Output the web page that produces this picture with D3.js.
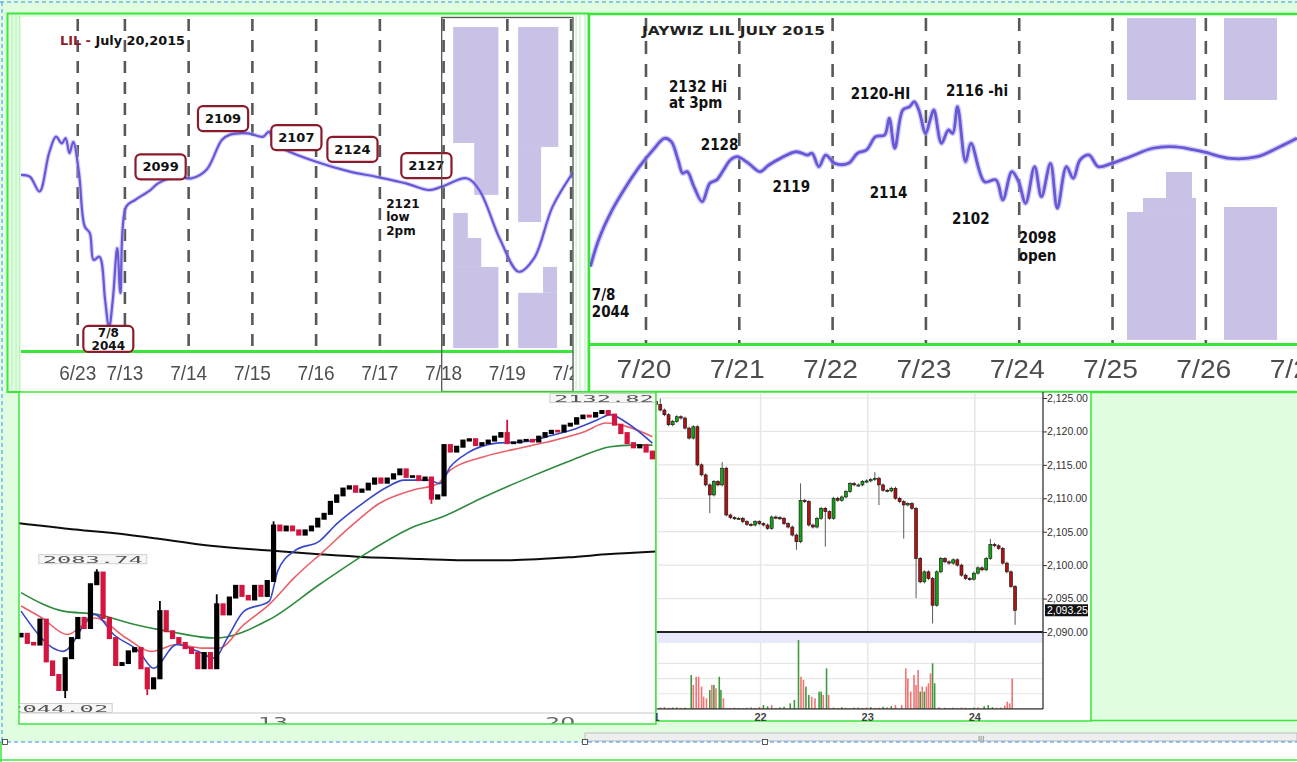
<!DOCTYPE html>
<html>
<head>
<meta charset="utf-8">
<script src="https://cdn.jsdelivr.net/npm/d3@7"></script>
<style>
body{margin:0;background:#fff;overflow:hidden}
svg{display:block}
text{font-family:"DejaVu Sans",sans-serif}
</style>
</head>
<body>
<div id="chart"></div>
<script>

// ---------- top left: "LIL - July 20,2015" ----------
var lilTickPos = [-0.74, 0, 1, 2, 3, 4, 5, 6, 7];
var lilTickLabels = ["6/23","7/13","7/14","7/15","7/16","7/17","7/18","7/19","7/20"];
var lilLineX = [-1.63,-1.49,-1.34,-1.19,-1.08,-0.99,-0.93,-0.87,-0.81,-0.72,-0.63,-0.55,-0.49,-0.40,-0.31,-0.25,-0.19,-0.12,-0.07,0.02,0.16,0.40,0.52,0.81,1.05,1.28,1.52,1.64,1.93,2.17,2.26,2.35,2.52,3.00,3.53,3.94,4.41,4.77,4.97,5.36,5.56,5.89,6.18,6.42,6.71,7.04];
var lilLineY = [2095.4,2094.8,2089.9,2102.6,2108.1,2105.9,2107.6,2102.6,2106.4,2096.0,2078.3,2076.1,2067.2,2068.3,2053.9,2044.6,2053.9,2071.1,2056.2,2084.9,2087.1,2090.4,2092.6,2094.8,2094.3,2097.1,2107.0,2108.7,2109.2,2108.1,2109.8,2105.9,2103.7,2099.8,2096.5,2094.8,2092.6,2090.4,2091.5,2094.3,2090.4,2073.8,2063.3,2067.8,2084.9,2096.5];
var lilBoxLines = [["2109"],["2099"],["2107"],["2124"],["2127"],["7/8","2044"]];
var lilBoxX = [1.54, 0.56, 2.69, 3.57, 4.73, -0.26];
var lilBoxY = [2114.1, 2098.1, 2107.8, 2103.9, 2098.5, 2041.0];
var lilPlainLines = ["2121","low","2pm"];
var lilPlainX = 4.10, lilPlainY = 2086.1;
var lilShadeX0 = [5.15, 5.48, 5.15, 5.15, 5.15, 6.17, 6.17, 6.56, 6.17];
var lilShadeX1 = [5.86, 5.86, 5.38, 5.59, 5.86, 6.80, 6.53, 6.78, 6.78];
var lilShadeTop = [2144.5, 2106.0, 2082.8, 2074.5, 2064.9, 2144.5, 2104.7, 2064.9, 2056.3];
var lilShadeBot = [2106.0, 2088.8, 2074.5, 2064.9, 2038.0, 2104.7, 2079.8, 2056.3, 2038.0];

// ---------- top right: "JAYWIZ LIL JULY 2015" ----------
var jwTickPos = [0, 1, 2, 3, 4, 5, 6, 7];
var jwTickLabels = ["7/20","7/21","7/22","7/23","7/24","7/25","7/26","7/27"];
var jwLineX = [-0.596,-0.508,-0.362,-0.215,-0.070,0.076,0.198,0.271,0.344,0.393,0.442,0.514,0.602,0.685,0.758,0.831,0.904,0.976,1.099,1.220,1.317,1.440,1.610,1.731,1.780,1.853,1.926,2.024,2.169,2.267,2.364,2.461,2.558,2.607,2.666,2.753,2.826,2.875,2.924,2.997,3.045,3.085,3.167,3.240,3.288,3.338,3.425,3.483,3.629,3.751,3.824,3.921,3.994,4.068,4.165,4.238,4.335,4.408,4.506,4.579,4.652,4.749,4.847,4.993,5.188,5.431,5.674,5.966,6.258,6.550,6.793,6.977];
var jwLineY = [2062.1,2076.6,2092.9,2105.5,2116.4,2125.5,2131.8,2130.0,2120.0,2112.8,2113.7,2105.5,2097.4,2107.4,2109.2,2114.6,2120.0,2121.8,2118.2,2113.7,2117.3,2120.9,2124.5,2122.7,2123.7,2116.4,2122.7,2118.2,2118.2,2123.7,2125.5,2132.7,2133.6,2142.7,2126.4,2147.2,2149.0,2151.7,2147.2,2134.5,2141.7,2147.2,2129.1,2136.3,2134.5,2149.0,2119.1,2129.1,2108.2,2109.2,2098.3,2113.7,2108.2,2096.5,2116.4,2100.1,2118.2,2093.8,2116.4,2110.1,2120.0,2122.7,2116.4,2118.2,2121.8,2126.4,2127.2,2124.5,2120.9,2121.8,2127.2,2131.8];
var jwNoteText = ["2132 Hi","at 3pm","2128","2119","2120-HI","2116 -hi","2114","2102","2098","open","7/8","2044"];
var jwNoteX = [0.246, 0.246, 0.587, 1.357, 2.194, 3.215, 2.398, 3.280, 3.995, 3.995, -0.581, -0.581];
var jwNoteY = [2159.7, 2151.0, 2128.2, 2105.4, 2155.9, 2157.5, 2102.6, 2088.0, 2077.7, 2067.9, 2046.7, 2037.5];
var jwShadeX0 = [5.155, 6.195, 5.155, 5.327, 5.573, 6.195];
var jwShadeX1 = [5.895, 6.763, 5.895, 5.895, 5.852, 6.763];
var jwShadeTop = [2197.1, 2197.1, 2091.8, 2099.4, 2113.5, 2094.5];
var jwShadeBot = [2152.6, 2152.6, 2022.3, 2091.8, 2099.4, 2022.3];

// ---------- bottom left: ES bars 7/6 - 7/21 ----------
var blFirstOpen = 2063.0;
var blClose = [2063.8,2061.0,2060.5,2068.2,2055.3,2051.1,2046.5,2056.3,2062.5,2068.7,
  2065.6,2079.1,2082.7,2068.7,2062.5,2054.2,2054.8,2058.4,2059.4,2053.2,
  2047.0,2050.1,2070.8,2064.6,2062.5,2061.0,2059.4,2057.9,2053.2,2057.9,
  2053.2,2072.9,2069.8,2075.0,2078.6,2075.5,2074.4,2078.6,2075.5,2080.1,
  2097.2,2095.7,2096.9,2095.7,2094.4,2095.7,2096.9,2099.3,2100.8,2104.5,
  2106.5,2108.6,2109.3,2107.6,2108.3,2110.1,2111.7,2110.4,2111.7,2113.0,
  2114.5,2112.2,2112.4,2111.2,2112.0,2105.5,2106.5,2122.0,2120.0,2121.5,
  2123.4,2123.8,2122.0,2122.6,2123.4,2124.6,2125.7,2122.6,2122.8,2123.4,
  2123.6,2123.1,2124.6,2125.7,2126.4,2126.2,2128.0,2128.6,2130.3,2131.1,
  2130.8,2131.9,2132.5,2131.4,2128.3,2125.7,2122.6,2121.3,2122.0,2120.0,
  2117.9];
var blWickIdx = [7, 12, 20, 22, 31, 40, 65, 77, 92];
var blWickLow = [2044.02, null, 2044.9, null, null, null, 2103.9, null, null];
var blWickHigh = [null, 2083.74, null, 2073.9, 2076.0, 2098.5, null, 2129.8, 2132.82];
var blBlueIdx = [0,6.67,11.67,14.67,18.67,21,24.67,28,30.67,32.67,35.33,39.33,40.67,43.33,47.33,50,54,58,60.67,64.67,66.33,68,70.67,75.33,80,83.33,87.33,91.33,93.33,96,100];
var blBlueVal = [2070.8,2058.4,2069.8,2063.6,2058.4,2053.2,2060.5,2058.4,2056.3,2062.5,2070.8,2073.9,2083.2,2089.4,2092.5,2097.7,2103.9,2109.1,2111.2,2111.2,2110.1,2115.3,2119.5,2122.6,2123.1,2124.6,2126.7,2129.8,2131.4,2128.8,2122.6];
var blRedIdx = [0,3.33,7.33,11.67,16.67,20.67,24.67,28.67,31.33,35.33,39.33,43.33,48,52.67,56.67,62,66,68,73.33,80,84.67,89.33,92.67,96,100];
var blRedVal = [2072.4,2068.7,2063.6,2068.7,2062.5,2058.4,2060.5,2059.4,2059.4,2066.7,2072.9,2081.2,2089.4,2097.7,2103.9,2108.1,2110.1,2114.3,2118.4,2121.5,2123.6,2126.2,2128.8,2127.7,2124.6];
var blGreenIdx = [0,6.67,12,18,23.33,30.67,39.33,47.33,55.33,62,66.67,73.33,80.67,87.33,93.33,96.67,100];
var blGreenVal = [2076.5,2070.8,2069.8,2066.7,2064.6,2062.5,2068.2,2079.1,2089.4,2096.7,2099.8,2106.0,2112.2,2117.4,2121.5,2122.0,2122.0];
var blBlackIdx = [-0.33,10,13.33,20,30,40,46.67,53.33,63.33,70,76.67,86.67,93.33,100.67];
var blBlackVal = [2097.9,2095.7,2095.1,2093.6,2091.0,2089.4,2088.4,2087.6,2086.9,2086.5,2086.5,2087.4,2088.4,2089.2];
var blTickIdx = [39.9, 85.4];
var blTickLabels = ["13","20"];
var blMarkIdx = [12, 92, 7];
var blMarkVal = [2083.74, 2132.82, 2044.02];
var blMarkText = ["2083.74","2132.82","2044.02"];

// ---------- bottom right: ES candles 7/21 - 7/24 ----------
var brFirstOpen = 2124.5;
var brClose = [2124.0,2123.2,2122.5,2121.0,2121.5,2122.2,2122.0,2120.5,2119.0,2120.7,
  2115.0,2113.5,2112.0,2110.5,2112.5,2112.0,2114.5,2107.5,2107.1,2107.0,
  2107.0,2106.5,2106.1,2106.0,2106.5,2106.2,2106.0,2105.5,2107.2,2107.1,
  2107.0,2106.2,2105.7,2104.5,2103.5,2109.7,2109.5,2106.0,2105.7,2107.0,
  2108.5,2108.0,2107.0,2110.0,2109.7,2110.2,2111.0,2112.2,2112.0,2112.0,
  2112.5,2112.6,2112.8,2113.0,2112.0,2111.2,2111.1,2111.5,2110.0,2109.5,
  2109.0,2109.2,2108.5,2101.0,2097.5,2099.0,2098.0,2094.0,2099.0,2101.0,
  2100.5,2100.3,2100.8,2100.0,2098.5,2098.0,2097.9,2098.8,2099.6,2099.3,
  2101.0,2103.1,2102.9,2102.5,2100.3,2099.0,2096.8,2093.25];
var brWickIdx = [1, 13, 16, 34, 35, 41, 53, 54, 60, 63, 67, 81, 87];
var brWickLow = [null, 2108.0, null, 2102.5, null, 2103.0, null, 2109.2, 2104.2, 2095.3, 2091.5, null, 2091.3];
var brWickHigh = [2124.7, null, 2115.2, null, 2112.0, null, 2113.7, null, null, null, null, 2103.7, null];
var brPriceTicks = [2090, 2095, 2100, 2105, 2110, 2115, 2120, 2125];
var brDayTickK = [-0.64, 25.32, 51.28, 77.24];
var brDayLabels = ["21","22","23","24"];
var volK = [0,1,2,3,4,5,6,7,
  8.5,9,9.7,10.3,11,11.5,12.2,13,13.5,14,14.5,15.3,15.7,16.3,
  17,18,19,20,21,22,23,24,25,26,27,28,29,30,31,
  32.5,33.5,34.5,35.1,35.7,36.3,37,37.7,38.5,39.5,40,40.5,41.3,41.8,
  43,44,45,46,47,48,49,50,51,52,53,54,55,56,57,
  58,59.5,60.5,61,61.7,62.5,63,63.5,64,64.5,65,65.5,66,66.5,67,67.5,
  68.5,70,71,72,73,74,75,76,77,78,
  79.5,80.5,81.5,82.5,83.5,84.5,85.1,85.7,86.3];
var volV = [1100,900,1300,800,1000,1200,700,900,
  22300,15800,21200,21200,14700,8100,7000,12500,15800,15800,13600,21200,12500,7000,
  800,600,900,700,500,800,1000,600,1400,2600,1800,2600,700,1100,1500,
  3700,5900,45300,21200,19100,14700,9200,8100,7000,11400,11400,9200,26700,9200,
  900,700,1200,800,600,900,1100,700,1000,1300,800,900,1500,1200,2000,
  2600,2600,26700,20100,11400,22300,15800,25600,11400,14700,11400,14700,16900,23400,30000,16900,
  1200,800,600,900,700,1000,800,600,900,1100,
  1800,2600,1200,900,1000,2200,4800,3700,20100];
var volUp = [0,1,0,0,1,0,0,1,
  1,0,0,0,0,0,0,1,0,1,0,1,1,0,
  0,1,0,0,1,0,1,1,0,1,1,0,0,1,1,
  1,1,1,0,0,1,1,0,0,1,1,0,1,0,
  1,0,1,0,0,1,0,1,0,1,0,0,1,0,1,
  0,0,0,0,0,0,0,0,1,0,1,0,0,0,1,1,
  0,1,0,1,0,0,1,0,1,0,
  1,1,1,0,0,0,0,0,0];
var volTicks = [10000, 20000, 30000];

/////////////////////////

var W = 1297, H = 762;
var paleGreen = "#e0fde0", brightGreen = "#3be63b";
var purple = "#6658d6", shade = "#c9c1e6";

var svg = d3.select("#chart").append("svg").attr("width", W).attr("height", H);
var defs = svg.append("defs");
defs.append("filter").attr("id", "soft")
  .append("feGaussianBlur").attr("stdDeviation", 0.55);

function clip(id, x, y, w, h){
  defs.append("clipPath").attr("id", id).append("rect")
    .attr("x", x).attr("y", y).attr("width", w).attr("height", h);
  return "url(#" + id + ")";
}

// page background
svg.append("rect").attr("width", W).attr("height", H).attr("fill", "#fff");
svg.append("rect").attr("width", W).attr("height", 742).attr("fill", paleGreen);

// shared: shaded blocks + dashed day lines
function drawShades(g, x, y, x0, x1, top, bot){
  g.append("g").selectAll("rect").data(d3.range(x0.length)).join("rect")
    .attr("x", function(i){ return x(x0[i]); })
    .attr("width", function(i){ return x(x1[i]) - x(x0[i]); })
    .attr("y", function(i){ return y(top[i]); })
    .attr("height", function(i){ return y(bot[i]) - y(top[i]); })
    .attr("fill", shade);
}
function drawDashes(g, x, ticks, y0, y1, dash){
  g.append("g").selectAll("line").data(ticks).join("line")
    .attr("x1", function(d){ return x(d); }).attr("x2", function(d){ return x(d); })
    .attr("y1", y0).attr("y2", y1)
    .attr("stroke", "#3c3c3c").attr("stroke-width", 2.6)
    .attr("stroke-dasharray", dash).attr("opacity", 0.85);
}

// ================= TOP LEFT =================
var tlX = d3.scaleLinear().domain([-1.63, 7.03]).range([21, 573]);
var tlY = d3.scaleLinear().domain([2037.0, 2147.8]).range([351, 17]);

svg.append("rect").attr("x", 7.5).attr("y", 13.5).attr("width", 581).attr("height", 378.5)
  .attr("fill", paleGreen).attr("stroke", brightGreen).attr("stroke-width", 2);
svg.append("rect").attr("x", 573).attr("y", 15).attr("width", 14.5).attr("height", 376).attr("fill", "#fff");
[12, 16, 19.5, 576, 580, 585].forEach(function(xx){
  svg.append("line").attr("x1", xx).attr("x2", xx).attr("y1", 15).attr("y2", 391)
    .attr("stroke", "#b6f3b6").attr("stroke-width", 1);
});

var tl = svg.append("g").attr("clip-path", clip("tlClip", 21, 17, 552, 375));
tl.append("rect").attr("x", 21).attr("y", 17).attr("width", 552).attr("height", 375).attr("fill", "#fff");
drawShades(tl, tlX, tlY, lilShadeX0, lilShadeX1, lilShadeTop, lilShadeBot);
drawDashes(tl, tlX, lilTickPos, 19, 351, "12,9");

var tlLine = d3.line()
  .x(function(i){ return tlX(lilLineX[i]); })
  .y(function(i){ return tlY(lilLineY[i]); })
  .curve(d3.curveCatmullRom);
tl.append("path").attr("d", tlLine(d3.range(lilLineX.length)))
  .attr("fill", "none").attr("stroke", "#b4adf0").attr("stroke-width", 4.5).attr("opacity", 0.55);
tl.append("path").attr("d", tlLine(d3.range(lilLineX.length)))
  .attr("fill", "none").attr("stroke", purple).attr("stroke-width", 2.2).attr("filter", "url(#soft)");

// green base line and axis labels
tl.append("line").attr("x1", 21).attr("x2", 573).attr("y1", 351.5).attr("y2", 351.5)
  .attr("stroke", brightGreen).attr("stroke-width", 3);
tl.append("g").selectAll("text").data(d3.range(lilTickPos.length)).join("text")
  .attr("x", function(i){ return tlX(lilTickPos[i]); })
  .attr("y", 380)
  .attr("text-anchor", "middle")
  .attr("textLength", 37).attr("lengthAdjust", "spacingAndGlyphs")
  .style("font-family", "'Liberation Sans', Arial, sans-serif")
  .style("font-size", "21px").attr("fill", "#4e4e4e").attr("filter", "url(#soft)")
  .text(function(i){ return lilTickLabels[i]; });

// boxed notes
var tlNotes = tl.append("g").selectAll("g").data(d3.range(lilBoxX.length)).join("g")
  .attr("transform", function(i){ return "translate(" + tlX(lilBoxX[i]) + "," + tlY(lilBoxY[i]) + ")"; });
tlNotes.each(function(i){
  var g = d3.select(this);
  var lines = lilBoxLines[i];
  var multi = lines.length > 1;
  var t = g.append("text").attr("text-anchor", "middle")
    .style("font-size", multi ? "12px" : "13px").style("font-weight", "bold").attr("fill", "#111");
  lines.forEach(function(s, k){
    t.append("tspan").attr("x", 0)
      .attr("y", multi ? (k ? 11 : -1.5) : 4.5).text(s);
  });
  var w = multi ? 50 : t.node().getBBox().width + 14;
  var h = multi ? 26 : 25;
  g.insert("rect", "text").attr("x", -w / 2).attr("y", -h / 2)
    .attr("width", w).attr("height", h).attr("rx", 5)
    .attr("fill", "#fff").attr("stroke", "#8b1a2b").attr("stroke-width", 2.2);
});
tl.append("text").attr("x", tlX(lilPlainX)).attr("y", tlY(lilPlainY) + 5)
  .style("font-size", "12px").style("font-weight", "bold").attr("fill", "#111")
  .selectAll("tspan").data(lilPlainLines).join("tspan")
  .attr("x", tlX(lilPlainX)).attr("dy", function(d, k){ return k ? 13.5 : 0; })
  .text(function(d){ return d; });

// title
var tlTitle = tl.append("text").attr("x", 60).attr("y", 45)
  .attr("textLength", 125).attr("lengthAdjust", "spacingAndGlyphs")
  .style("font-size", "12px").style("font-weight", "bold");
tlTitle.append("tspan").attr("fill", "#8b1a2b").text("LIL - ");
tlTitle.append("tspan").attr("fill", "#111").text("July 20,2015");

// dark frame round the 7/18 - 7/20 block
svg.append("rect").attr("x", tlX(4.97)).attr("y", 17.5)
  .attr("width", 573 - tlX(4.97)).attr("height", 374)
  .attr("fill", "none").attr("stroke", "#555").attr("stroke-width", 1.3);

// ================= TOP RIGHT =================
var trX = d3.scaleLinear().domain([-0.600, 6.977]).range([590, 1297]);
var trY = d3.scaleLinear().domain([2020.6, 2197.7]).range([343, 17]);

svg.append("rect").attr("x", 589).attr("y", 14).attr("width", 710).attr("height", 378)
  .attr("fill", "#fff").attr("stroke", brightGreen).attr("stroke-width", 2.5);

var tr = svg.append("g").attr("clip-path", clip("trClip", 590, 16, 707, 376));
drawShades(tr, trX, trY, jwShadeX0, jwShadeX1, jwShadeTop, jwShadeBot);
drawDashes(tr, trX, jwTickPos, 18, 343, "13,10");

var trLine = d3.line()
  .x(function(i){ return trX(jwLineX[i]); })
  .y(function(i){ return trY(jwLineY[i]); })
  .curve(d3.curveCatmullRom);
tr.append("path").attr("d", trLine(d3.range(jwLineX.length)))
  .attr("fill", "none").attr("stroke", "#b4adf0").attr("stroke-width", 5.5).attr("opacity", 0.6);
tr.append("path").attr("d", trLine(d3.range(jwLineX.length)))
  .attr("fill", "none").attr("stroke", purple).attr("stroke-width", 2.8).attr("filter", "url(#soft)");

tr.append("line").attr("x1", 590).attr("x2", 1297).attr("y1", 344.5).attr("y2", 344.5)
  .attr("stroke", brightGreen).attr("stroke-width", 3);
tr.append("line").attr("x1", 590).attr("x2", 1297).attr("y1", 348).attr("y2", 348)
  .attr("stroke", "#d8f5d8").attr("stroke-width", 1);
tr.append("g").selectAll("text").data(d3.range(jwTickPos.length)).join("text")
  .attr("x", function(i){ return trX(jwTickPos[i]) - 2; })
  .attr("y", 378)
  .attr("text-anchor", "middle")
  .attr("textLength", 55).attr("lengthAdjust", "spacingAndGlyphs")
  .style("font-family", "'Liberation Sans', Arial, sans-serif")
  .style("font-size", "25px").attr("fill", "#4e4e4e").attr("filter", "url(#soft)")
  .text(function(i){ return jwTickLabels[i]; });

tr.append("g").selectAll("text").data(d3.range(jwNoteText.length)).join("text")
  .attr("x", function(i){ return trX(jwNoteX[i]); })
  .attr("y", function(i){ return trY(jwNoteY[i]) + 5.5; })
  .style("font-family", "'DejaVu Sans Condensed','DejaVu Sans',sans-serif")
  .style("font-stretch", "condensed")
  .style("font-size", "15px").style("font-weight", "bold").attr("fill", "#111")
  .text(function(i){ return jwNoteText[i]; });

tr.append("text").attr("x", 642).attr("y", 35)
  .attr("textLength", 183).attr("lengthAdjust", "spacingAndGlyphs")
  .style("font-size", "11.5px").style("font-weight", "bold").attr("fill", "#222")
  .text("JAYWIZ LIL JULY 2015");

// ================= BOTTOM LEFT =================
var blX = d3.scaleLinear().domain([0, 100]).range([21, 652.4]);
var blY = d3.scaleLinear().domain([2044.02, 2132.82]).range([698, 410]);

svg.append("rect").attr("x", 19).attr("y", 392).attr("width", 637).attr("height", 332)
  .attr("fill", "#fff").attr("stroke", brightGreen).attr("stroke-width", 1.5);
var bl = svg.append("g").attr("clip-path", clip("blClip", 19.5, 392.5, 636, 331))
  .attr("filter", "url(#soft)");

// axis
bl.append("line").attr("x1", 19).attr("x2", 656).attr("y1", 713).attr("y2", 713)
  .attr("stroke", "#c8c8c8").attr("stroke-width", 1);
bl.append("g").selectAll("text").data(d3.range(blTickIdx.length)).join("text")
  .attr("x", function(i){ return blX(blTickIdx[i]); }).attr("y", 727)
  .attr("text-anchor", "middle").attr("textLength", 30).attr("lengthAdjust", "spacingAndGlyphs")
  .style("font-size", "14px").attr("fill", "#666")
  .text(function(i){ return blTickLabels[i]; });

// moving averages
function maLine(idx, val){
  return d3.line().x(function(i){ return blX(idx[i]); }).y(function(i){ return blY(val[i]); })
    .curve(d3.curveMonotoneX)(d3.range(idx.length));
}
bl.append("path").attr("d", maLine(blBlackIdx, blBlackVal)).attr("fill", "none")
  .attr("stroke", "#111").attr("stroke-width", 2);
bl.append("path").attr("d", maLine(blGreenIdx, blGreenVal)).attr("fill", "none")
  .attr("stroke", "#2f8a3c").attr("stroke-width", 1.6);
bl.append("path").attr("d", maLine(blRedIdx, blRedVal)).attr("fill", "none")
  .attr("stroke", "#e8606a").attr("stroke-width", 1.6);
bl.append("path").attr("d", maLine(blBlueIdx, blBlueVal)).attr("fill", "none")
  .attr("stroke", "#3848c8").attr("stroke-width", 1.6);

// bars
var blBars = blClose.map(function(c, i){
  var o = i ? blClose[i - 1] : blFirstOpen;
  var k = blWickIdx.indexOf(i);
  var hi = Math.max(o, c), lo = Math.min(o, c);
  if(k >= 0){
    if(blWickHigh[k] != null) hi = blWickHigh[k];
    if(blWickLow[k] != null) lo = blWickLow[k];
  }
  return {i: i, o: o, c: c, hi: hi, lo: lo};
});
var blG = bl.append("g").selectAll("g").data(blBars).join("g");
blG.append("line")
  .attr("x1", function(d){ return blX(d.i); }).attr("x2", function(d){ return blX(d.i); })
  .attr("y1", function(d){ return blY(d.hi); }).attr("y2", function(d){ return blY(d.lo); })
  .attr("stroke", function(d){ return d.c >= d.o ? "#000" : "#d2153f"; }).attr("stroke-width", 1.8);
blG.append("rect")
  .attr("x", function(d){ return blX(d.i) - 2.6; }).attr("width", 5.2)
  .attr("y", function(d){ return blY(Math.max(d.o, d.c)) - 1; })
  .attr("height", function(d){ return Math.abs(blY(d.o) - blY(d.c)) + 2; })
  .attr("fill", function(d){ return d.c >= d.o ? "#000" : "#d2153f"; });

// high / low markers (offset of each box from its bar)
var markDx = [-4, 2, -7], markDy = [-10, -12, 10];
var blM = bl.append("g").selectAll("g").data(d3.range(blMarkIdx.length)).join("g")
  .attr("transform", function(i){
    return "translate(" + (blX(blMarkIdx[i]) + markDx[i]) + "," + (blY(blMarkVal[i]) + markDy[i]) + ")";
  });
blM.append("rect").attr("x", -54).attr("y", -4.5).attr("width", 108).attr("height", 9)
  .attr("fill", "#f6f6f6").attr("stroke", "#cfcfcf").attr("stroke-width", 1);
blM.append("text").attr("x", -50).attr("y", 3.5)
  .attr("textLength", 100).attr("lengthAdjust", "spacingAndGlyphs")
  .style("font-family", "'DejaVu Sans Mono',monospace").style("font-size", "9.5px")
  .attr("fill", "#555").text(function(i){ return blMarkText[i]; });

// ================= BOTTOM RIGHT =================
var brX = d3.scaleLinear().domain([0, 87]).range([656.16, 1015.1]);
var brY = d3.scaleLinear().domain([2090, 2125]).range([632, 398]);
var volY = d3.scaleLinear().domain([0, 44000]).range([709, 642]);

svg.append("rect").attr("x", 656).attr("y", 392).attr("width", 435).attr("height", 329)
  .attr("fill", "#fff").attr("stroke", brightGreen).attr("stroke-width", 1.5);
var br = svg.append("g").attr("clip-path", clip("brClip", 656.8, 392.8, 386.5, 317));

// grid
br.append("g").selectAll("line").data(brPriceTicks).join("line")
  .attr("x1", 656).attr("x2", 1043).attr("y1", function(d){ return brY(d); }).attr("y2", function(d){ return brY(d); })
  .attr("stroke", "#e6e6e6").attr("stroke-width", 1.2);
br.append("g").selectAll("line").data(brDayTickK).join("line")
  .attr("x1", function(d){ return brX(d); }).attr("x2", function(d){ return brX(d); })
  .attr("y1", 392).attr("y2", 709)
  .attr("stroke", "#e6e6e6").attr("stroke-width", 1.5);
br.append("rect").attr("x", 656).attr("y", 633).attr("width", 387).attr("height", 10).attr("fill", "#e8e8fb");
br.append("g").selectAll("line").data(volTicks).join("line")
  .attr("x1", 656).attr("x2", 1043).attr("y1", function(d){ return volY(d); }).attr("y2", function(d){ return volY(d); })
  .attr("stroke", "#e6e6e6").attr("stroke-width", 1.2);

// volume
br.append("g").selectAll("rect").data(d3.range(volK.length)).join("rect")
  .attr("x", function(i){ return brX(volK[i]) - 0.8; }).attr("width", 1.6)
  .attr("y", function(i){ return volY(volV[i]); })
  .attr("height", function(i){ return 709 - volY(volV[i]); })
  .attr("fill", function(i){ return volUp[i] ? "#3f9a3f" : "#f07474"; });

// candles
var brBars = brClose.map(function(c, i){
  var o = i ? brClose[i - 1] : brFirstOpen;
  var k = brWickIdx.indexOf(i);
  var hi = Math.max(o, c), lo = Math.min(o, c);
  if(k >= 0){
    if(brWickHigh[k] != null) hi = brWickHigh[k];
    if(brWickLow[k] != null) lo = brWickLow[k];
  }
  return {i: i, o: o, c: c, hi: hi, lo: lo};
});
var brG = br.append("g").selectAll("g").data(brBars).join("g");
brG.append("line")
  .attr("x1", function(d){ return brX(d.i); }).attr("x2", function(d){ return brX(d.i); })
  .attr("y1", function(d){ return brY(d.hi) - 1.5; }).attr("y2", function(d){ return brY(d.lo) + 1.5; })
  .attr("stroke", "#5a5a5a").attr("stroke-width", 1);
brG.append("rect")
  .attr("x", function(d){ return brX(d.i) - 1.5; }).attr("width", 3)
  .attr("y", function(d){ return brY(Math.max(d.o, d.c)); })
  .attr("height", function(d){ return Math.max(1.2, Math.abs(brY(d.o) - brY(d.c))); })
  .attr("fill", function(d){ return d.c >= d.o ? "#13a313" : "#b01212"; })
  .attr("stroke", "#111").attr("stroke-width", 0.6);

// divider between price and volume
br.append("line").attr("x1", 656).attr("x2", 1043).attr("y1", 632).attr("y2", 632)
  .attr("stroke", "#222").attr("stroke-width", 2);
br.append("line").attr("x1", 656).attr("x2", 1043).attr("y1", 709).attr("y2", 709)
  .attr("stroke", "#333").attr("stroke-width", 1.3);

// price axis
svg.append("line").attr("x1", 1043).attr("x2", 1043).attr("y1", 392).attr("y2", 709)
  .attr("stroke", "#333").attr("stroke-width", 1.3);
var pAxis = svg.append("g").attr("transform", "translate(1043,0)")
  .call(d3.axisRight(brY).tickValues(brPriceTicks).tickSize(4).tickFormat(d3.format(",.2f")));
pAxis.select(".domain").remove();
pAxis.selectAll("text").attr("x", 4).style("font-family", "'Liberation Sans',Arial,sans-serif")
  .style("font-size", "10.5px").attr("fill", "#333");
pAxis.selectAll("line").attr("stroke", "#333");

var lastClose = brClose[brClose.length - 1];
svg.append("rect").attr("x", 1045).attr("y", brY(lastClose) - 6).attr("width", 43).attr("height", 12).attr("fill", "#111");
svg.append("text").attr("x", 1047).attr("y", brY(lastClose) + 4)
  .style("font-family", "'Liberation Sans',Arial,sans-serif").style("font-size", "10.5px")
  .attr("fill", "#fff").text(d3.format(",.2f")(lastClose));

// day labels
var dayG = svg.append("g").attr("clip-path", clip("dayClip", 656, 700, 387, 24));
dayG.selectAll("text").data(d3.range(brDayTickK.length)).join("text")
  .attr("x", function(i){ return brX(brDayTickK[i]); }).attr("y", 721)
  .attr("text-anchor", "middle")
  .style("font-family", "'Liberation Sans',Arial,sans-serif").style("font-size", "11px")
  .style("font-weight", "bold").attr("fill", "#444")
  .text(function(i){ return brDayLabels[i]; });

// ================= window chrome =================
svg.append("line").attr("x1", 1091).attr("x2", 1297).attr("y1", 720.5).attr("y2", 720.5)
  .attr("stroke", brightGreen).attr("stroke-width", 1.5);
svg.append("rect").attr("x", 585).attr("y", 733).attr("width", 712).attr("height", 8)
  .attr("fill", "#eeeeee").attr("stroke", "#bdbdbd").attr("stroke-width", 1);
svg.append("text").attr("x", 978).attr("y", 741).style("font-size", "7px").attr("fill", "#777").text("III");
svg.append("line").attr("x1", 0).attr("x2", W).attr("y1", 742).attr("y2", 742)
  .attr("stroke", "#3d8cff").attr("stroke-width", 1).attr("stroke-dasharray", "4,3");
svg.append("line").attr("x1", 0).attr("x2", W).attr("y1", 2).attr("y2", 2)
  .attr("stroke", "#3d8cff").attr("stroke-width", 1).attr("stroke-dasharray", "4,3");
svg.append("line").attr("x1", 2).attr("x2", 2).attr("y1", 2).attr("y2", 742)
  .attr("stroke", "#3d8cff").attr("stroke-width", 1).attr("stroke-dasharray", "4,3");
svg.append("line").attr("x1", 0).attr("x2", W).attr("y1", 760).attr("y2", 760)
  .attr("stroke", brightGreen).attr("stroke-width", 1.5);
svg.append("line").attr("x1", 1).attr("x2", 1).attr("y1", 742).attr("y2", 762)
  .attr("stroke", brightGreen).attr("stroke-width", 1.5);
[[765, 742], [585, 742], [5, 742]].forEach(function(p){
  svg.append("rect").attr("x", p[0] - 2.5).attr("y", p[1] - 2.5).attr("width", 5).attr("height", 5)
    .attr("fill", "#fff").attr("stroke", "#333").attr("stroke-width", 0.8);
});

</script>
</body>
</html>
